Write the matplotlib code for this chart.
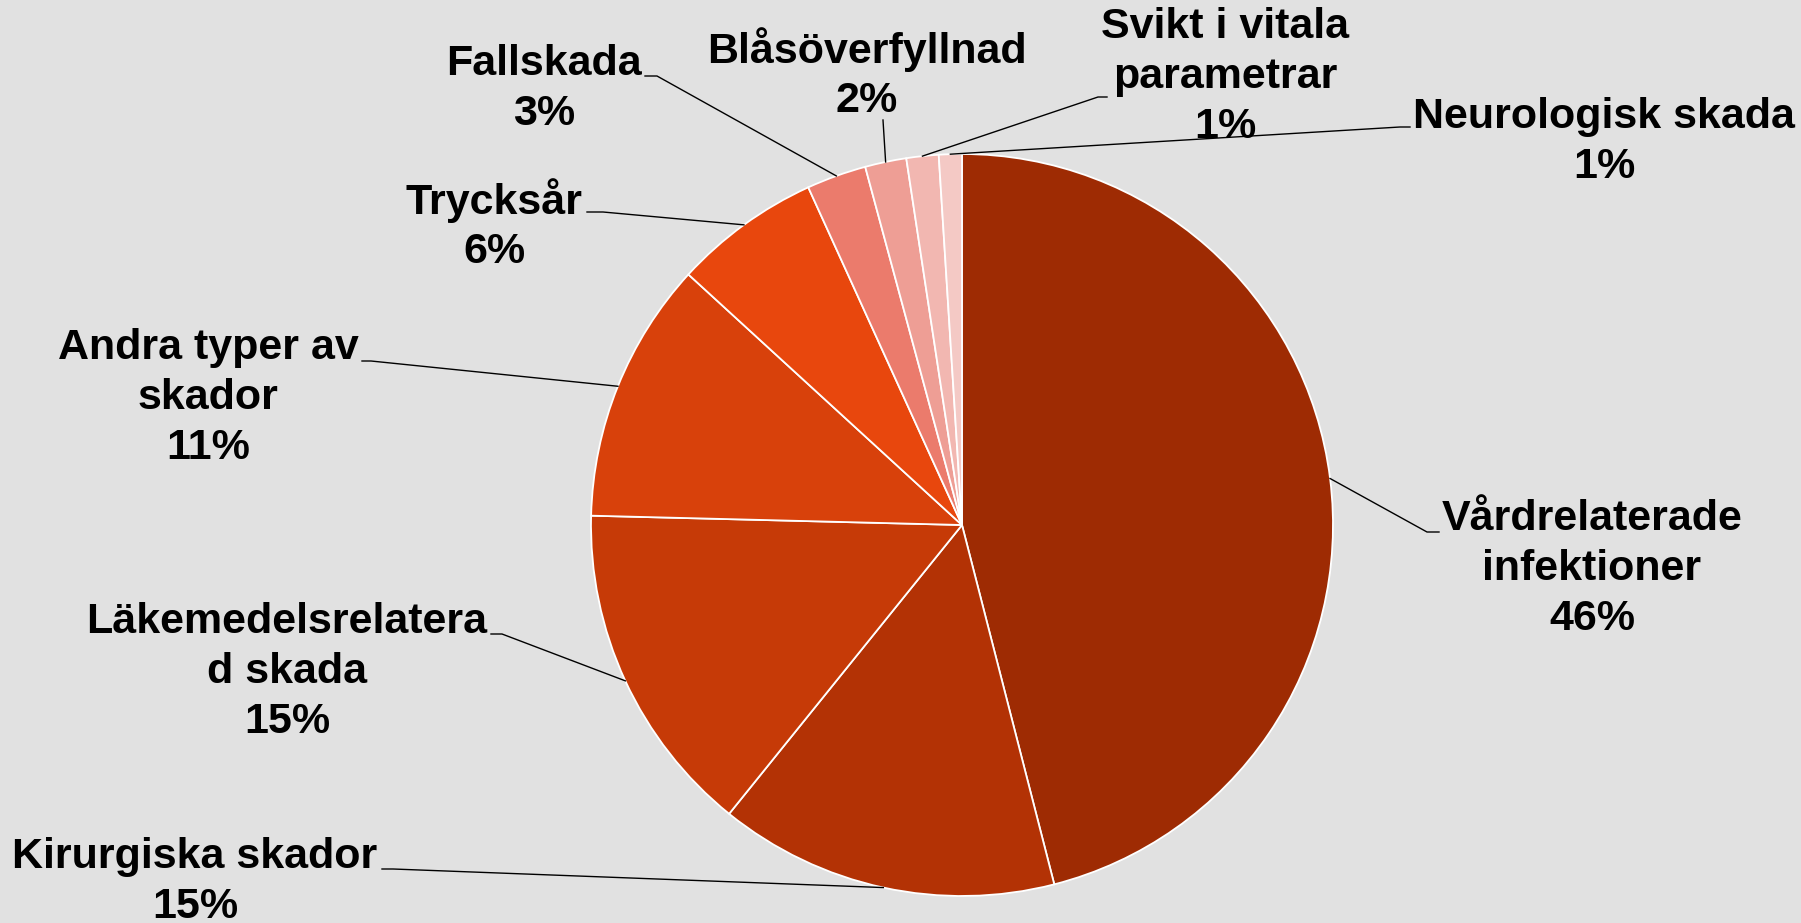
import matplotlib.pyplot as plt
import numpy as np

# andel skador (%) medurs från klockan 12
categories = ['Vårdrelaterade\ninfektioner', 'Kirurgiska skador', 'Läkemedelsrelatera\nd skada',
              'Andra typer av\nskador', 'Trycksår', 'Fallskada', 'Blåsöverfyllnad',
              'Svikt i vitala\nparametrar', 'Neurologisk skada']
values = [46.0, 14.8, 14.6, 11.4, 6.4, 2.6, 1.8, 1.4, 1.0]
colors = ['#9E2B03', '#B33205', '#C63A07', '#D8410B', '#E8470D',
          '#EB7B6C', '#EE9E95', '#F2B7B1', '#F4C9C5']

# etikettens mittpunkt, linjens slut vid texten, knäpunkt (pixlar)
label_pos = [(1592, 569), (195, 882), (287, 672), (208, 398), (494, 225),
             (544, 89), (867, 74), (1225, 77), (1604, 142)]
line_end = [(1439, 532), (382, 869), (491, 634), (362, 361), (587, 212),
            (645, 76), (883, 120), (1107, 97), (1410, 127)]
line_elbow = [(1427, 532), (393, 869), (502, 634), (371, 361), (603, 212),
              (657, 76), (883, 120), (1098, 97), (1400, 127)]

W, H = 1801, 923
cx, cy, r = 962, 525, 371

fig = plt.figure(figsize=(W / 100, H / 100), dpi=100)
fig.patch.set_facecolor('#E1E1E1')
ax = fig.add_axes([0, 0, 1, 1])
ax.set_facecolor('#E1E1E1')

# y-axeln är inverterad: startvinkel -90 och moturs blir medurs från toppen
wedges, _ = ax.pie(values, colors=colors, startangle=-90, counterclock=True,
                   center=(cx, cy), radius=r,
                   wedgeprops=dict(edgecolor='white', linewidth=1.3))
ax.set_xlim(0, W)
ax.set_ylim(H, 0)
ax.set_aspect('equal')
ax.axis('off')

total = sum(values)
for i, w in enumerate(wedges):
    mid = np.deg2rad((w.theta1 + w.theta2) / 2)
    ax_pt = (cx + r * np.cos(mid), cy + r * np.sin(mid))
    xs = [ax_pt[0], line_elbow[i][0], line_end[i][0]]
    ys = [ax_pt[1], line_elbow[i][1], line_end[i][1]]
    ax.plot(xs, ys, color='black', linewidth=1.0)
    pct = round(values[i] / total * 100)
    ax.text(label_pos[i][0], label_pos[i][1], f'{categories[i]}\n{pct}%',
            ha='center', va='center', fontsize=31, fontweight='bold',
            family=['Liberation Sans', 'DejaVu Sans'], linespacing=1.31)

plt.savefig('out.png', dpi=100, facecolor=fig.get_facecolor())
